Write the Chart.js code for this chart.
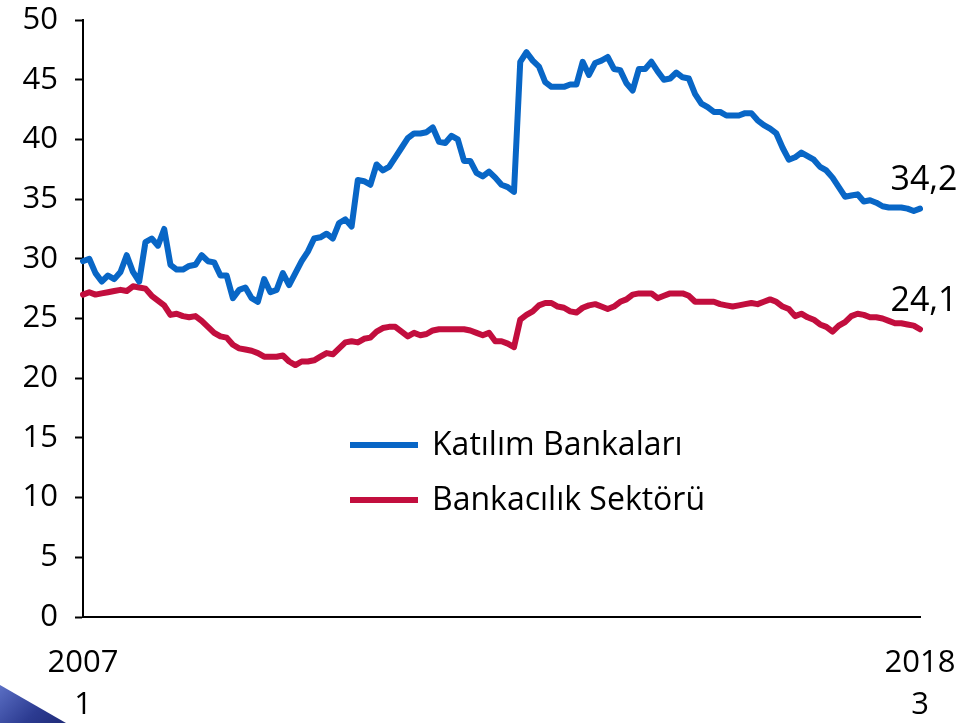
<!DOCTYPE html>
<html>
<head>
<meta charset="utf-8">
<script src="https://cdn.jsdelivr.net/npm/chart.js@4/dist/chart.umd.min.js"></script>
<style>
  html, body { margin: 0; padding: 0; background: #fff; }
  #wrap { position: relative; width: 963px; height: 723px; overflow: hidden; }
  #corner {
    position: absolute; left: 0; bottom: 0; width: 66px; height: 38px;
    background: linear-gradient(135deg, #5b6fc4 0%, #2c3b91 60%, #1f2b78 100%);
    clip-path: polygon(0 0, 100% 100%, 0 100%);
  }
</style>
</head>
<body>
<div id="wrap">
  <canvas id="chart" width="963" height="723"></canvas>
  <div id="corner"></div>
</div>
<script>
    'use strict';

    // monthly, 2007-1 .. 2018-3
    var startYear = 2007, endYear = 2018, endMonth = 3;
    var seriesNames = ['Katılım Bankaları', 'Bankacılık Sektörü'];
    var endLabels = ['34,2', '24,1'];
    var yTicks = [0, 5, 10, 15, 20, 25, 30, 35, 40, 45, 50];

    var katilim = [
        29.8, 30.0, 28.8, 28.1, 28.6, 28.3, 28.9, 30.3, 28.9, 28.1,
        31.4, 31.7, 31.1, 32.5, 29.5, 29.1, 29.1, 29.4, 29.5, 30.3,
        29.8, 29.7, 28.6, 28.6, 26.7, 27.4, 27.6, 26.7, 26.4, 28.3,
        27.2, 27.4, 28.8, 27.8, 28.8, 29.8, 30.6, 31.7, 31.8, 32.1,
        31.7, 33.0, 33.3, 32.7, 36.6, 36.5, 36.2, 37.9, 37.4, 37.7,
        38.5, 39.3, 40.1, 40.5, 40.5, 40.6, 41.0, 39.8, 39.7, 40.3,
        40.0, 38.2, 38.2, 37.2, 36.9, 37.3, 36.8, 36.2, 36.0, 35.6,
        46.5, 47.3, 46.6, 46.1, 44.8, 44.4, 44.4, 44.4, 44.6, 44.6,
        46.5, 45.4, 46.4, 46.6, 46.9, 45.9, 45.8, 44.7, 44.1, 45.9,
        45.9, 46.5, 45.7, 45.0, 45.1, 45.6, 45.2, 45.1, 43.8, 43.0,
        42.7, 42.3, 42.3, 42.0, 42.0, 42.0, 42.2, 42.2, 41.6, 41.2,
        40.9, 40.5, 39.3, 38.3, 38.5, 38.9, 38.6, 38.3, 37.7, 37.4,
        36.8, 36.0, 35.2, 35.3, 35.4, 34.8, 34.9, 34.7, 34.4, 34.3,
        34.3, 34.3, 34.2, 34.0, 34.2
    ];

    var sektor = [
        27.0, 27.2, 27.0, 27.1, 27.2, 27.3, 27.4, 27.3, 27.7, 27.6,
        27.5, 26.9, 26.5, 26.1, 25.3, 25.4, 25.2, 25.1, 25.2, 24.8,
        24.3, 23.8, 23.5, 23.4, 22.8, 22.5, 22.4, 22.3, 22.1, 21.8,
        21.8, 21.8, 21.9, 21.4, 21.1, 21.4, 21.4, 21.5, 21.8, 22.1,
        22.0, 22.5, 23.0, 23.1, 23.0, 23.3, 23.4, 23.9, 24.2, 24.3,
        24.3, 23.9, 23.5, 23.8, 23.6, 23.7, 24.0, 24.1, 24.1, 24.1,
        24.1, 24.1, 24.0, 23.8, 23.6, 23.8, 23.1, 23.1, 22.9, 22.6,
        24.9, 25.3, 25.6, 26.1, 26.3, 26.3, 26.0, 25.9, 25.6, 25.5,
        25.9, 26.1, 26.2, 26.0, 25.8, 26.0, 26.4, 26.6, 27.0, 27.1,
        27.1, 27.1, 26.7, 26.9, 27.1, 27.1, 27.1, 26.9, 26.4, 26.4,
        26.4, 26.4, 26.2, 26.1, 26.0, 26.1, 26.2, 26.3, 26.2, 26.4,
        26.6, 26.4, 26.0, 25.8, 25.2, 25.4, 25.1, 24.9, 24.5, 24.3,
        23.9, 24.4, 24.7, 25.2, 25.4, 25.3, 25.1, 25.1, 25.0, 24.8,
        24.6, 24.6, 24.5, 24.4, 24.1
    ];

    var months = [];
    for (var y = startYear; y <= endYear; y++) {
        for (var m = 1; m <= 12; m++) {
            if (y === endYear && m > endMonth) break;
            months.push([String(y), String(m)]);
        }
    }

    var colors = {
        blue: '#0866c6',
        red:  '#c20e3e',
    };
    var FONT = '"Open Sans", "Liberation Sans", sans-serif';

    // legend drawn inside the plot, like the original
    var innerLegend = {
        id: 'innerLegend',
        afterDraw: function (chart) {
            var ctx = chart.ctx;
            var rows = [445, 500];
            ctx.save();
            chart.data.datasets.forEach(function (ds, i) {
                ctx.strokeStyle = ds.borderColor;
                ctx.lineWidth = 6;
                ctx.beginPath();
                ctx.moveTo(350, rows[i]);
                ctx.lineTo(418, rows[i]);
                ctx.stroke();
                ctx.fillStyle = '#000';
                ctx.font = '32px ' + FONT;
                ctx.textAlign = 'left';
                ctx.textBaseline = 'middle';
                ctx.fillText(ds.label, 432, rows[i] + 1);
            });
            ctx.restore();
        },
    };

    // value labels at the last point
    var lastValue = {
        id: 'lastValue',
        afterDatasetsDraw: function (chart) {
            var ctx = chart.ctx;
            ctx.save();
            ctx.fillStyle = '#000';
            ctx.font = '34px ' + FONT;
            ctx.textAlign = 'center';
            ctx.textBaseline = 'middle';
            chart.data.datasets.forEach(function (ds, i) {
                var pts = chart.getDatasetMeta(i).data;
                var p = pts[pts.length - 1];
                ctx.fillText(endLabels[i], p.x + 4, p.y - 28);
            });
            ctx.restore();
        },
    };

    new Chart(document.getElementById('chart'), {
        type: 'line',
        data: {
            labels: months,
            datasets: [{
                label: seriesNames[0],
                data: katilim,
                borderColor: colors.blue,
                borderWidth: 6,
                pointRadius: 0,
                tension: 0,
                borderJoinStyle: 'round',
                borderCapStyle: 'round',
            }, {
                label: seriesNames[1],
                data: sektor,
                borderColor: colors.red,
                borderWidth: 6,
                pointRadius: 0,
                tension: 0,
                borderJoinStyle: 'round',
                borderCapStyle: 'round',
            }],
        },
        options: {
            responsive: false,
            animation: false,
            layout: { padding: { top: 20, right: 43, left: 0, bottom: 0 } },
            plugins: {
                legend: { display: false },
                tooltip: { enabled: false },
            },
            scales: {
                x: {
                    grid: { display: false, drawTicks: false },
                    border: { display: true, color: '#000', width: 2 },
                    ticks: {
                        autoSkip: false,
                        maxRotation: 0,
                        padding: 25,
                        color: '#000',
                        font: { family: FONT, size: 31, lineHeight: 1.35 },
                        callback: function (val, idx) {
                            if (idx === 0 || idx === months.length - 1) return months[idx];
                            return '';
                        },
                    },
                    afterFit: function (scale) {
                        scale.height = 106;
                        scale.paddingLeft = 0;
                        scale.paddingRight = 0;
                    },
                },
                y: {
                    min: 0,
                    max: 50,
                    afterBuildTicks: function (scale) {
                        scale.ticks = yTicks.map(function (v) { return { value: v }; });
                    },
                    grid: {
                        display: true,
                        drawOnChartArea: false,
                        drawTicks: true,
                        tickLength: 8,
                        tickWidth: 2,
                        color: '#000',
                    },
                    border: { display: true, color: '#000', width: 2 },
                    ticks: {
                        padding: 17,
                        color: '#000',
                        font: { family: FONT, size: 31 },
                    },
                    afterFit: function (scale) {
                        scale.width = 83;
                        scale.paddingTop = 0;
                        scale.paddingBottom = 0;
                    },
                },
            },
        },
        plugins: [innerLegend, lastValue],
    });
</script>
</body>
</html>
